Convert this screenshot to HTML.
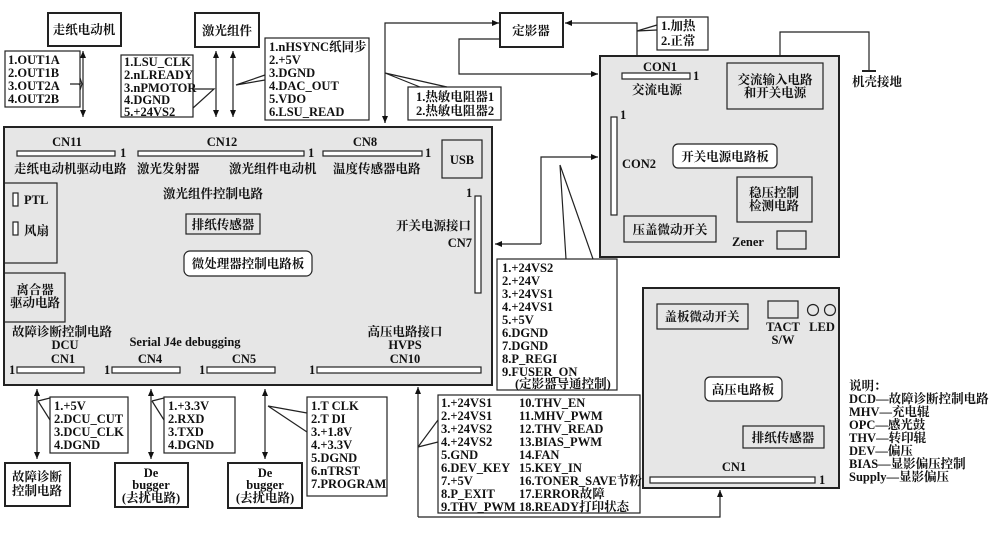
<!DOCTYPE html>
<html><head><meta charset="utf-8"><style>
html,body{margin:0;padding:0;background:#fff;}
svg{display:block;}
text{font-family:"Liberation Serif","Noto Serif CJK SC",serif;font-weight:bold;font-size:12.5px;fill:#111;}
.s{font-size:12px;}
</style></head><body>
<svg width="1000" height="546" viewBox="0 0 1000 546" xmlns="http://www.w3.org/2000/svg">
<defs>
<marker id="a" markerWidth="8" markerHeight="8" refX="7" refY="4" orient="auto" markerUnits="userSpaceOnUse"><path d="M0,1 L7,4 L0,7 Z" fill="#111"/></marker>
<marker id="b" markerWidth="8" markerHeight="8" refX="1" refY="4" orient="auto" markerUnits="userSpaceOnUse"><path d="M8,1 L1,4 L8,7 Z" fill="#111"/></marker>
</defs>
<g stroke="#222" fill="none" stroke-width="1.2">
<!-- boards -->
<rect x="4" y="127" width="488" height="258" fill="#e6e6e6" stroke-width="2"/>
<rect x="600" y="56" width="239" height="201" fill="#e6e6e6" stroke-width="2"/>
<rect x="643" y="288" width="196" height="200" fill="#e6e6e6" stroke-width="2"/>
<!-- top component boxes -->
<rect x="48" y="13" width="73" height="33" fill="#fff" stroke-width="2"/>
<rect x="195" y="13" width="64" height="34" fill="#fff" stroke-width="2"/>
<rect x="500" y="13" width="63" height="34" fill="#fff" stroke-width="2"/>
<!-- label boxes top -->
<rect x="5" y="51" width="75" height="56" fill="#fff"/>
<rect x="121" y="55" width="72" height="62" fill="#fff"/>
<rect x="265" y="38" width="104" height="82" fill="#fff"/>
<rect x="408" y="87" width="93" height="33" fill="#fff"/>
<rect x="657" y="17" width="51" height="33" fill="#fff"/>
<!-- pointers -->
<path d="M80,84 L79,85 M70,84 L80,84 L79,85" />
<path d="M80,78 L82,84 L80,90"/>
<path d="M193,89 L214,89 L193,108"/>
<path d="M265,75 L236,85 L265,80"/>
<path d="M385,73 L447,87 M385,73 L420,87"/>
<path d="M637,31 L657,25 M637,31 L657,30"/>
<!-- top arrows -->
<line x1="83" y1="51" x2="83" y2="117" marker-start="url(#b)" marker-end="url(#a)"/>
<line x1="216" y1="51" x2="216" y2="117" marker-start="url(#b)" marker-end="url(#a)"/>
<line x1="233" y1="51" x2="233" y2="117" marker-start="url(#b)" marker-end="url(#a)"/>
<path d="M385,123 L385,23 L499,23" marker-end="url(#a)"/>
<path d="M385,115 L385,123" marker-end="url(#a)"/>
<path d="M500,39 L459,39 L459,74 L598,74" marker-end="url(#a)"/>
<path d="M637,56 L637,23 L565,23" marker-end="url(#a)"/>
<path d="M780,56 L780,32 L869,32 L869,71"/>
<line x1="862" y1="71" x2="876" y2="71" stroke-width="2"/>
<!-- CN7 link -->
<path d="M541,244 L541,157 L598,157" marker-end="url(#a)"/>
<path d="M541,244 L495,244" marker-end="url(#a)"/>
<path d="M560,165 L566,259 M560,165 L593,259"/>
<rect x="497" y="259" width="120" height="131" fill="#fff"/>
<!-- HV link -->
<path d="M418,517 L418,387" marker-end="url(#a)"/>
<path d="M418,517 L720,517 L720,490" marker-end="url(#a)"/>
<rect x="438" y="395" width="202" height="118" fill="#fff"/>
<path d="M418,447 L438,420 M418,447 L438,442"/>
<!-- bottom -->
<line x1="37" y1="389" x2="37" y2="459" marker-start="url(#b)" marker-end="url(#a)"/>
<line x1="151" y1="389" x2="151" y2="459" marker-start="url(#b)" marker-end="url(#a)"/>
<line x1="265" y1="389" x2="265" y2="459" marker-start="url(#b)" marker-end="url(#a)"/>
<path d="M38,401 L50,398 M38,401 L50,420"/>
<path d="M152,401 L164,398 M152,401 L164,420"/>
<path d="M268,406 L307,413 M268,406 L307,432"/>
<rect x="50" y="397" width="78" height="56" fill="#fff"/>
<rect x="164" y="397" width="71" height="56" fill="#fff"/>
<rect x="307" y="397" width="80" height="99" fill="#fff"/>
<rect x="5" y="463" width="65" height="43" fill="#fff" stroke-width="2"/>
<rect x="115" y="463" width="73" height="44" fill="#fff" stroke-width="2"/>
<rect x="228" y="463" width="74" height="45" fill="#fff" stroke-width="2"/>
<!-- main board internals -->
<rect x="17" y="151" width="98" height="5" fill="#fff"/>
<rect x="138" y="151" width="166" height="5" fill="#fff"/>
<rect x="323" y="151" width="99" height="5" fill="#fff"/>
<rect x="442" y="140" width="40" height="38"/>
<rect x="475" y="196" width="6" height="97" fill="#fff"/>
<rect x="4" y="183" width="53" height="80"/>
<rect x="13" y="193" width="5" height="13" fill="#fff"/>
<rect x="13" y="222" width="5" height="13" fill="#fff"/>
<rect x="186" y="214" width="74" height="20"/>
<rect x="184" y="251" width="128" height="25" rx="6" fill="#fff"/>
<rect x="4" y="273" width="61" height="49"/>
<rect x="17" y="367" width="67" height="6" fill="#fff"/>
<rect x="112" y="367" width="68" height="6" fill="#fff"/>
<rect x="207" y="367" width="68" height="6" fill="#fff"/>
<rect x="317" y="367" width="164" height="6" fill="#fff"/>
<!-- right board internals -->
<rect x="622" y="73" width="68" height="6" fill="#fff"/>
<rect x="727" y="63" width="96" height="46"/>
<rect x="611" y="117" width="6" height="98" fill="#fff"/>
<rect x="673" y="144" width="104" height="24" rx="5" fill="#fff"/>
<rect x="737" y="177" width="75" height="45"/>
<rect x="624" y="216" width="92" height="26"/>
<rect x="777" y="231" width="29" height="18"/>
<!-- HV board internals -->
<rect x="657" y="304" width="91" height="25"/>
<rect x="768" y="301" width="30" height="17"/>
<circle cx="813" cy="310" r="5.5"/>
<circle cx="830" cy="310" r="5.5"/>
<rect x="705" y="377" width="77" height="24" rx="5" fill="#fff"/>
<rect x="743" y="426" width="81" height="22"/>
<rect x="650" y="477" width="165" height="6" fill="#fff"/>
</g>
<!-- texts -->
<text x="84" y="34" text-anchor="middle">走纸电动机</text>
<text x="227" y="35" text-anchor="middle">激光组件</text>
<text x="531" y="35" text-anchor="middle">定影器</text>
<g class="s">
<text x="8" y="64">1.OUT1A</text><text x="8" y="77">2.OUT1B</text><text x="8" y="90">3.OUT2A</text><text x="8" y="103">4.OUT2B</text>
<text x="124" y="66">1.LSU_CLK</text><text x="124" y="79">2.nLREADY</text><text x="124" y="92">3.nPMOTOR</text><text x="124" y="104">4.DGND</text><text x="124" y="116">5.+24VS2</text>
<text x="269" y="51">1.nHSYNC纸同步</text><text x="269" y="64">2.+5V</text><text x="269" y="77">3.DGND</text><text x="269" y="90">4.DAC_OUT</text><text x="269" y="103">5.VDO</text><text x="269" y="116">6.LSU_READ</text>
<text x="416" y="101">1.热敏电阻器1</text><text x="416" y="115">2.热敏电阻器2</text>
<text x="661" y="30">1.加热</text><text x="661" y="45">2.正常</text>
</g>
<text x="67" y="146" text-anchor="middle">CN11</text><text x="120" y="157">1</text>
<text x="222" y="146" text-anchor="middle">CN12</text><text x="308" y="157">1</text>
<text x="365" y="146" text-anchor="middle">CN8</text><text x="425" y="157">1</text>
<text x="14" y="173">走纸电动机驱动电路</text>
<text x="137" y="173">激光发射器</text>
<text x="229" y="173">激光组件电动机</text>
<text x="333" y="173">温度传感器电路</text>
<text x="462" y="164" text-anchor="middle">USB</text>
<text x="163" y="198">激光组件控制电路</text>
<text x="466" y="197">1</text>
<text x="471" y="230" text-anchor="end">开关电源接口</text>
<text x="472" y="247" text-anchor="end">CN7</text>
<text x="24" y="204">PTL</text><text x="24" y="235">风扇</text>
<text x="223" y="229" text-anchor="middle">排纸传感器</text>
<text x="248" y="268" text-anchor="middle">微处理器控制电路板</text>
<text x="35" y="294" text-anchor="middle">离合器</text><text x="35" y="307" text-anchor="middle">驱动电路</text>
<text x="12" y="336">故障诊断控制电路</text>
<text x="65" y="349" text-anchor="middle">DCU</text>
<text x="185" y="346" text-anchor="middle">Serial J4e debugging</text>
<text x="63" y="363" text-anchor="middle">CN1</text>
<text x="150" y="363" text-anchor="middle">CN4</text>
<text x="244" y="363" text-anchor="middle">CN5</text>
<text x="405" y="336" text-anchor="middle">高压电路接口</text>
<text x="405" y="349" text-anchor="middle">HVPS</text>
<text x="405" y="363" text-anchor="middle">CN10</text>
<text x="9" y="374">1</text><text x="104" y="374">1</text><text x="199" y="374">1</text><text x="309" y="374">1</text>
<!-- right board -->
<text x="660" y="71" text-anchor="middle">CON1</text><text x="693" y="80">1</text>
<text x="657" y="94" text-anchor="middle">交流电源</text>
<text x="775" y="84" text-anchor="middle">交流输入电路</text><text x="775" y="97" text-anchor="middle">和开关电源</text>
<text x="620" y="119">1</text>
<text x="622" y="168">CON2</text>
<text x="725" y="161" text-anchor="middle">开关电源电路板</text>
<text x="774" y="197" text-anchor="middle">稳压控制</text><text x="774" y="210" text-anchor="middle">检测电路</text>
<text x="670" y="234" text-anchor="middle">压盖微动开关</text>
<text x="732" y="246">Zener</text>
<text x="852" y="86">机壳接地</text>
<!-- CN7 list -->
<g class="s">
<text x="502" y="272">1.+24VS2</text><text x="502" y="285">2.+24V</text><text x="502" y="298">3.+24VS1</text><text x="502" y="311">4.+24VS1</text><text x="502" y="324">5.+5V</text><text x="502" y="337">6.DGND</text><text x="502" y="350">7.DGND</text><text x="502" y="363">8.P_REGI</text><text x="502" y="376">9.FUSER_ON</text><text x="515" y="388">(定影器导通控制)</text>
<text x="441" y="407">1.+24VS1</text><text x="441" y="420">2.+24VS1</text><text x="441" y="433">3.+24VS2</text><text x="441" y="446">4.+24VS2</text><text x="441" y="459">5.GND</text><text x="441" y="472">6.DEV_KEY</text><text x="441" y="485">7.+5V</text><text x="441" y="498">8.P_EXIT</text><text x="441" y="511">9.THV_PWM</text>
<text x="519" y="407">10.THV_EN</text><text x="519" y="420">11.MHV_PWM</text><text x="519" y="433">12.THV_READ</text><text x="519" y="446">13.BIAS_PWM</text><text x="519" y="459">14.FAN</text><text x="519" y="472">15.KEY_IN</text><text x="519" y="485">16.TONER_SAVE节粉</text><text x="519" y="498">17.ERROR故障</text><text x="519" y="511">18.READY打印状态</text>
<text x="54" y="410">1.+5V</text><text x="54" y="423">2.DCU_CUT</text><text x="54" y="436">3.DCU_CLK</text><text x="54" y="449">4.DGND</text>
<text x="168" y="410">1.+3.3V</text><text x="168" y="423">2.RXD</text><text x="168" y="436">3.TXD</text><text x="168" y="449">4.DGND</text>
<text x="311" y="410">1.T CLK</text><text x="311" y="423">2.T DI</text><text x="311" y="436">3.+1.8V</text><text x="311" y="449">4.+3.3V</text><text x="311" y="462">5.DGND</text><text x="311" y="475">6.nTRST</text><text x="311" y="488">7.PROGRAM</text>
</g>
<text x="37" y="481" text-anchor="middle">故障诊断</text><text x="37" y="495" text-anchor="middle">控制电路</text>
<text x="151" y="477" text-anchor="middle">De</text><text x="151" y="489" text-anchor="middle">bugger</text><text x="151" y="502" text-anchor="middle">(去扰电路)</text>
<text x="265" y="477" text-anchor="middle">De</text><text x="265" y="489" text-anchor="middle">bugger</text><text x="265" y="502" text-anchor="middle">(去扰电路)</text>
<!-- HV board -->
<text x="702" y="321" text-anchor="middle">盖板微动开关</text>
<text x="783" y="331" text-anchor="middle">TACT</text><text x="783" y="344" text-anchor="middle">S/W</text>
<text x="822" y="331" text-anchor="middle">LED</text>
<text x="743" y="394" text-anchor="middle">高压电路板</text>
<text x="783" y="442" text-anchor="middle">排纸传感器</text>
<text x="734" y="471" text-anchor="middle">CN1</text><text x="819" y="484">1</text>
<g class="s">
<text x="849" y="390">说明：</text>
<text x="849" y="403">DCD—故障诊断控制电路</text>
<text x="849" y="416">MHV—充电辊</text>
<text x="849" y="429">OPC—感光鼓</text>
<text x="849" y="442">THV—转印辊</text>
<text x="849" y="455">DEV—偏压</text>
<text x="849" y="468">BIAS—显影偏压控制</text>
<text x="849" y="481">Supply—显影偏压</text>
</g>
</svg>
</body></html>
